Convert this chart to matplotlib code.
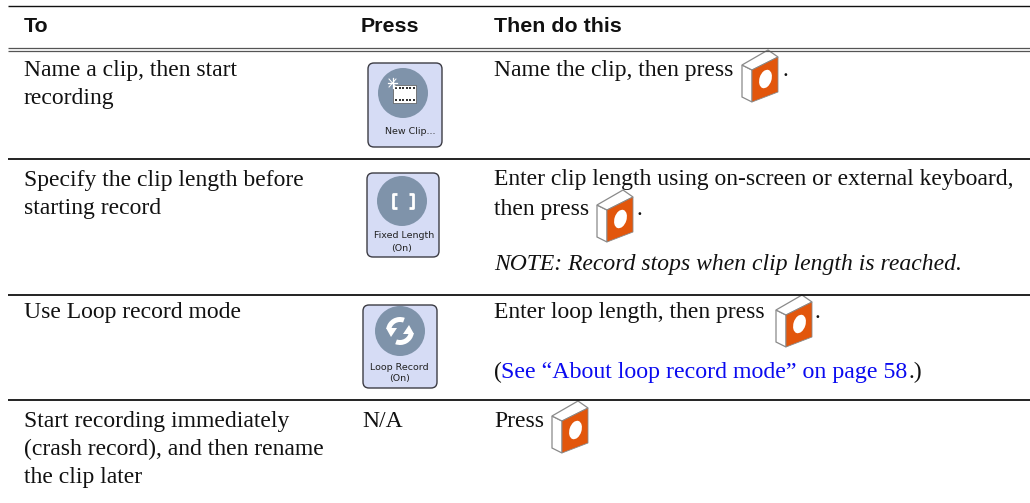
import matplotlib
matplotlib.use("Agg")
import matplotlib.pyplot as plt
from matplotlib.patches import FancyBboxPatch, Circle, Ellipse, Polygon, Rectangle, Wedge

headers = ["To", "Press", "Then do this"]
to_lines = [
    ["Name a clip, then start", "recording"],
    ["Specify the clip length before", "starting record"],
    ["Use Loop record mode"],
    ["Start recording immediately", "(crash record), and then rename", "the clip later"],
]
button_labels = [["New Clip..."], ["Fixed Length", "(On)"], ["Loop Record", "(On)"]]
then_lines = [
    ["Name the clip, then press"],
    ["Enter clip length using on-screen or external keyboard,", "then press"],
    ["Enter loop length, then press"],
    ["Press"],
]
note_text = "NOTE: Record stops when clip length is reached."
na_text = "N/A"
link_text = "See \u201cAbout loop record mode\u201d on page 58"

SERIF = "Liberation Serif"
SANS = "Liberation Sans"
BODY = 17.0
HEAD = 15.4

fig = plt.figure(figsize=(10.30, 5.03), dpi=100)
ax = fig.add_axes([0, 0, 1, 1])
ax.set_xlim(0, 1030)
ax.set_ylim(503, 0)
ax.axis("off")


def body(x, y, s, **kw):
    kw.setdefault("color", "#111111")
    kw.setdefault("fontsize", BODY)
    ax.text(x, y, s, family=SERIF, va="baseline", **kw)


def cube(x, y):
    # x is the left edge, y the bottom corner
    ec = "#8a8a8a"
    ax.add_patch(Polygon([(x, y-37), (x+10, y-32), (x+10, y), (x, y-5)], fc="white", ec=ec, lw=0.9))
    ax.add_patch(Polygon([(x, y-37), (x+26, y-52), (x+36, y-45), (x+10, y-32)], fc="white", ec=ec, lw=0.9))
    ax.add_patch(Polygon([(x+10, y-32), (x+36, y-45), (x+36, y-10), (x+10, y)], fc="#e2560c", ec=ec, lw=0.6))
    ax.add_patch(Ellipse((x+23.5, y-23), 12, 19, angle=18, fc="white", ec="none"))


def button(x0, y0, w, h, cx, cy, label, label_x, label_y):
    ax.add_patch(FancyBboxPatch((x0+4, y0+4), w-8, h-8, boxstyle="round,pad=4,rounding_size=6",
                                fc="#d6dcf5", ec="#3c3c44", lw=1.0))
    ax.add_patch(Circle((cx, cy), 25, fc="#7f93aa", ec="none"))
    for s, x, y in zip(label, label_x, label_y):
        ax.text(x, y, s, family="DejaVu Sans", fontsize=6.8, ha="center", va="center", color="#222222")


# rules
ax.plot([8, 1030], [6, 6], color="#111111", lw=1.0, solid_capstyle="butt")
ax.plot([8, 1030], [48, 48], color="#555555", lw=0.9, solid_capstyle="butt")
ax.plot([8, 1030], [51, 51], color="#555555", lw=0.9, solid_capstyle="butt")
for y in [159, 294.5, 400]:
    ax.plot([8, 1030], [y, y], color="#111111", lw=1.3, solid_capstyle="butt")

# header row
for x, s in zip([24, 361, 494], headers):
    ax.text(x, 32, s, family=SANS, fontsize=HEAD, fontweight="bold", va="baseline", color="#111111")

# left column
for lines, ys in zip(to_lines, [[76, 104], [186, 214], [318], [427, 455, 483]]):
    for s, y in zip(lines, ys):
        body(24, y, s)
body(362, 427, na_text)

# right column
for lines, ys in zip(then_lines, [[76], [185, 215], [318], [427]]):
    for s, y in zip(lines, ys):
        body(494, y, s)
ax.text(494, 270, note_text, family=SERIF, fontsize=BODY, style="italic", va="baseline", color="#111111")
body(494, 378, "(")
body(501, 378, link_text, color="#0a0af0", fontsize=17.2)
body(909, 378, ".)")

# orange record buttons
for x, y, dot_x, dot_y in [(742, 102, 783, 76), (597, 242, 637, 215), (776, 347, 815, 318), (552, 453, None, None)]:
    cube(x, y)
    if dot_x:
        body(dot_x, dot_y, ".")

# press buttons
button(368, 63, 74, 84, 403, 93, button_labels[0], [410], [132])
button(367, 173, 72, 84, 402, 201, button_labels[1], [404, 402], [235, 248])
button(363, 305, 74, 83, 400, 331, button_labels[2], [399, 400], [367, 379])

# new clip glyph
ax.add_patch(Rectangle((393, 85), 23, 18, fc="white", ec="#555555", lw=0.5))
for i in range(6):
    ax.add_patch(Rectangle((395+i*3.5, 87), 2, 1.5, fc="#333333", ec="none"))
    ax.add_patch(Rectangle((395+i*3.5, 99), 2, 1.5, fc="#333333", ec="none"))
ax.plot([388, 397], [83, 83], color="white", lw=0.9)
ax.plot([392.5, 392.5], [78, 88], color="white", lw=0.9)
ax.plot([389, 396], [79, 87], color="white", lw=0.7)
ax.plot([396, 389], [79, 87], color="white", lw=0.7)

# fixed length brackets
for x, d in [(393, 1), (413, -1)]:
    ax.plot([x+d*4, x, x, x+d*4], [194, 194, 208, 208], color="white", lw=2.0, solid_capstyle="butt")

# loop arrows
ax.add_patch(Wedge((400, 331), 14, 190, 290, width=5, fc="white", ec="none"))
ax.add_patch(Wedge((400, 331), 14, 10, 110, width=5, fc="white", ec="none"))
ax.add_patch(Polygon([(386, 328), (397, 328), (391, 337)], fc="white", ec="none"))
ax.add_patch(Polygon([(403, 334), (414, 334), (409, 325)], fc="white", ec="none"))

fig.savefig("out.png", dpi=100)
